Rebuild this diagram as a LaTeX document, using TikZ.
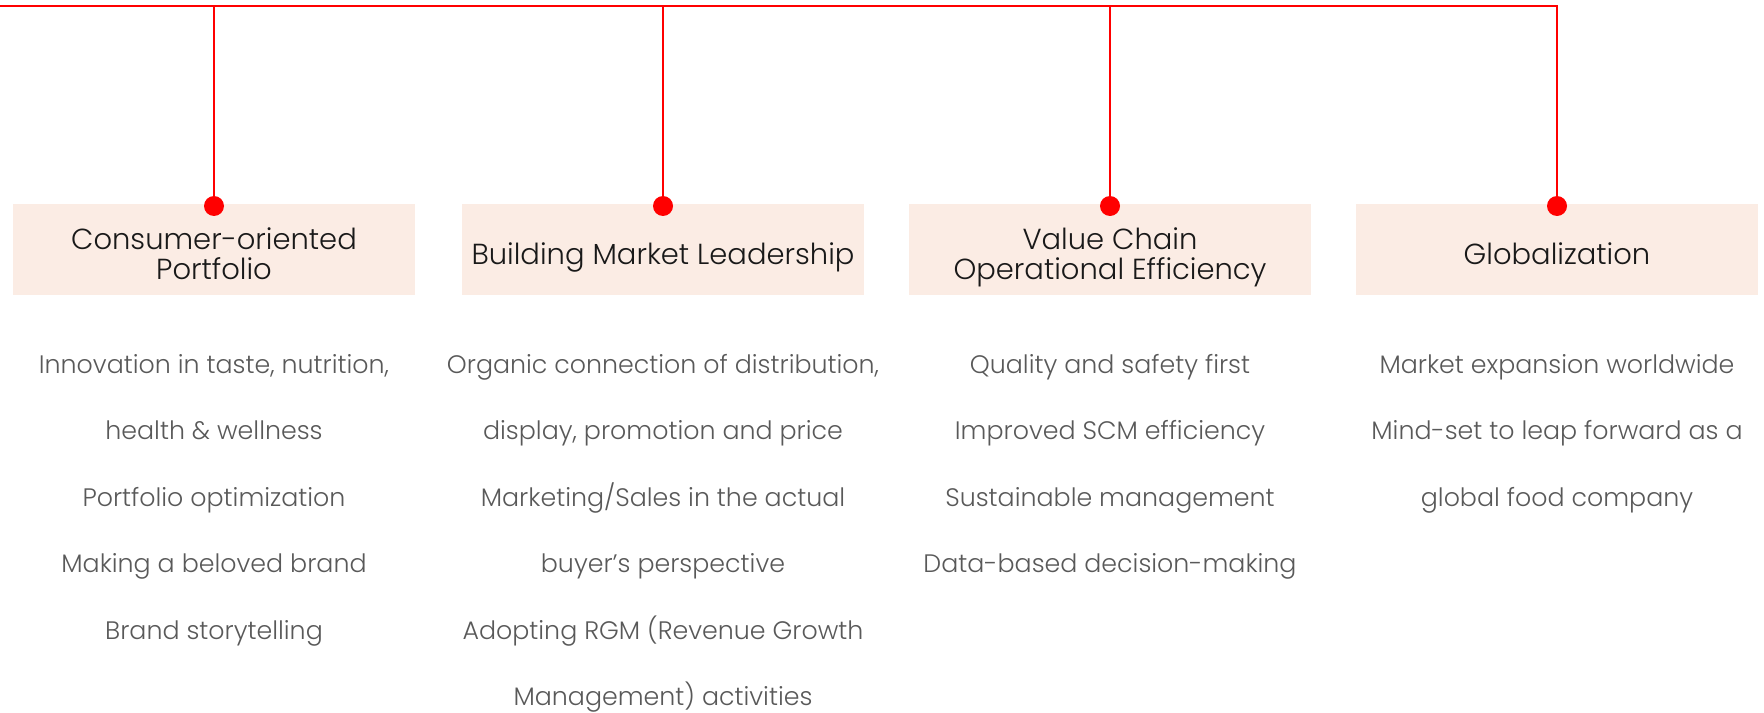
\documentclass[tikz,border=0pt]{standalone}
\usepackage{fontspec}
\setmainfont{Poppins Light}

\definecolor{pillarfill}{HTML}{FBECE4}
\definecolor{linkred}{HTML}{FF0000}
\definecolor{itemgray}{HTML}{595959}

\begin{document}
\begin{tikzpicture}[x=0.02cm, y=-0.02cm]
\tikzset{ link/.style={draw=linkred, line width=1.1pt},
  pillar/.style={fill=pillarfill, minimum width=8.04cm, minimum height=1.82cm,
    inner sep=0pt, outer sep=0pt},
  title/.style={align=center, text=black!90, text depth=0pt, yshift=-0.09cm,
    font=\fontsize{16.5}{17}\selectfont},
  dot/.style={circle, fill=linkred, minimum size=0.4cm, inner sep=0pt},
  item/.style={anchor=base, text=itemgray, font=\fontsize{14.4}{16}\selectfont} }

\useasboundingbox (0,0) rectangle (1764,713);

%\draw [lightgray] (0,0) grid [step=50] (1764,713);

% the four pillars
\node [pillar] (box1) at (214,249.5) {};
\node [pillar] (box2) at (663,249.5) {};
\node [pillar] (box3) at (1110,249.5) {};
\node [pillar] (box4) at (1557,249.5) {};

\node [title] (t1) at (box1.center) {Consumer-oriented\\Portfolio};
\node [title] (t2) at (box2.center) {Building Market Leadership};
\node [title] (t3) at (box3.center) {Value Chain\\Operational Efficiency};
\node [title] (t4) at (box4.center) {Globalization};

\node [dot] (dot1) at (214,206) {};
\node [dot] (dot2) at (663,206) {};
\node [dot] (dot3) at (1110,206) {};
\node [dot] (dot4) at (1557,206) {};

% rail along the top
\coordinate (rail) at (0,6);
\coordinate (tee1) at (214,6);
\coordinate (tee2) at (663,6);
\coordinate (tee3) at (1110,6);
\coordinate (corner) at (1557,6);

\draw [link] (rail) -- (corner) -- (dot4);
\draw [link] (tee1) -- (dot1);
\draw [link] (tee2) -- (dot2);
\draw [link] (tee3) -- (dot3);

% bullet lines under each pillar
\foreach \txt [count=\i] in {{Innovation in taste, nutrition,}, health \& wellness,
    Portfolio optimization, Making a beloved brand, Brand storytelling}
  \node [item] (a\i) at (214,{373+66.5*(\i-1)}) {\txt};

\foreach \txt [count=\i] in {{Organic connection of distribution,},
    {display, promotion and price}, Marketing/Sales in the actual,
    buyer's perspective, Adopting RGM (Revenue Growth,
    Management) activities}
  \node [item] (b\i) at (663,{373+66.5*(\i-1)}) {\txt};

\foreach \txt [count=\i] in {Quality and safety first, Improved SCM efficiency,
    Sustainable management, Data-based decision-making}
  \node [item] (c\i) at (1110,{373+66.5*(\i-1)}) {\txt};

\foreach \txt [count=\i] in {Market expansion worldwide,
    Mind-set to leap forward as a, global food company}
  \node [item] (d\i) at (1557,{373+66.5*(\i-1)}) {\txt};

\end{tikzpicture}
\end{document}
